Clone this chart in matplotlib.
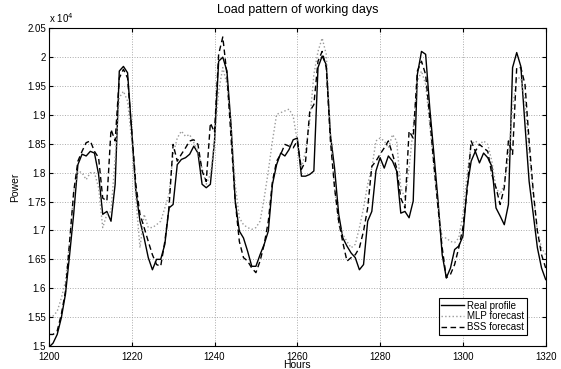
import matplotlib
matplotlib.use("Agg")
import matplotlib.pyplot as plt
import numpy as np

plt.rcParams["font.family"] = ["Liberation Sans", "DejaVu Sans"]

# hourly values, hours 1200..1320
hours = np.arange(1200, 1321)

real = [
    14980, 15050, 15200, 15490, 15900, 16580, 17300, 18140, 18320, 18290,
    18370, 18340, 17970, 17280, 17330, 17160, 17800, 19760, 19840, 19730,
    18720, 17680, 17160, 16870, 16530, 16320, 16500, 16500, 16760, 17390,
    17450, 18140, 18230, 18260, 18320, 18460, 18340, 17800, 17740, 17800,
    18550, 19930, 20000, 19760, 18830, 17510, 16990, 16870, 16640, 16380,
    16380, 16580, 16760, 16990, 17800, 18140, 18340, 18290, 18400, 18570,
    18600, 17940, 17940, 17970, 18030, 19820, 20020, 19870, 18660, 18080,
    17280, 16870, 16730, 16610, 16530, 16320, 16410, 17160, 17330, 18030,
    18260, 18080, 18290, 18200, 18030, 17300, 17330, 17220, 17510, 19700,
    20100, 20050, 19120, 18320, 17510, 16580, 16180, 16350, 16670, 16730,
    16900, 17740, 18200, 18370, 18170, 18340, 18260, 18110, 17390, 17250,
    17100, 17450, 19820, 20080, 19840, 18830, 17850, 17280, 16700, 16350,
    16150,
]

mlp = [
    15520, 15520, 15600, 15830, 16120, 16810, 17680, 18030, 18000, 17880,
    18000, 18000, 17740, 17050, 17280, 17330, 18260, 19300, 19410, 19240,
    18550, 17560, 16700, 17280, 17050, 17050, 17100, 17160, 17390, 17620,
    18320, 18600, 18720, 18630, 18660, 18520, 18370, 18080, 17800, 17970,
    18550, 19410, 19820, 19530, 18780, 17800, 17220, 17100, 17050, 17020,
    17050, 17160, 17560, 18030, 18550, 19010, 19040, 19070, 19100, 18980,
    18550, 18080, 18370, 18890, 19700, 20100, 20330, 20050, 18660, 17740,
    17100, 16930, 16810, 16700, 16760, 17050, 17390, 17800, 18080, 18550,
    18600, 18550, 18430, 18660, 18550, 17740, 17560, 18080, 18780, 19580,
    19760, 19530, 18830, 18080, 17390, 16870, 16870, 16810, 16790, 16870,
    17280, 17970, 18490, 18550, 18490, 18550, 18490, 18200, 17740, 17620,
    17800, 18260, 19120, 19640, 19640, 19240, 18370, 17620, 16990, 16700,
    16580,
]

bss = [
    15200, 15200, 15260, 15550, 15950, 16810, 17680, 18200, 18370, 18520,
    18550, 18370, 18260, 17560, 17510, 18750, 18550, 19640, 19790, 19640,
    18720, 17800, 17280, 17050, 16810, 16580, 16410, 16380, 16810, 17390,
    18490, 18200, 18320, 18430, 18550, 18570, 18490, 18030, 17850, 18860,
    18700, 20050, 20350, 19700, 18600, 17510, 16810, 16530, 16470, 16350,
    16270, 16470, 16760, 17160, 17850, 18200, 18320, 18490, 18460, 18430,
    18550, 18060, 18200, 19060, 19180, 19930, 20100, 19820, 18550, 17740,
    17160, 16790, 16470, 16530, 16580, 16700, 16990, 17390, 18110, 18200,
    18320, 18430, 18550, 18320, 18080, 17560, 17390, 18720, 18600, 19760,
    19930, 19700, 18950, 18140, 17390, 16700, 16180, 16240, 16410, 16700,
    17050, 17680, 18550, 18370, 18490, 18430, 18370, 17970, 17740, 17450,
    17740, 18550, 18320, 19820, 19820, 19530, 18550, 17680, 16990, 16580,
    16350,
]

yticks = np.arange(15000, 20501, 500)
ytick_labels = ["1.5", "1.55", "1.6", "1.65", "1.7", "1.75", "1.8",
                "1.85", "1.9", "1.95", "2", "2.05"]
xticks = np.arange(1200, 1321, 20)

fig = plt.figure(figsize=(5.61, 3.69), dpi=100)
ax = fig.add_axes([0.0872, 0.0623, 0.8855, 0.861])

ax.plot(hours, real, color="black", lw=1.0, label="Real profile")
ax.plot(hours, mlp, color="#9a9a9a", lw=1.0, ls=":", label="MLP forecast")
ax.plot(hours, bss, color="black", lw=1.0, ls="--", dashes=(4, 2.5), label="BSS forecast")

ax.set_xlim(1200, 1320)
ax.set_ylim(15000, 20500)
ax.set_xticks(xticks)
ax.set_yticks(yticks)
ax.set_yticklabels(ytick_labels)
ax.tick_params(direction="in", top=True, right=True, labelsize=7, length=3, pad=2)
ax.tick_params(axis="x", pad=4)
ax.grid(True, ls=":", color="#aaaaaa", lw=0.7)
for s in ax.spines.values():
    s.set_linewidth(0.8)

ax.set_title("Load pattern of working days", fontsize=9, pad=11)
ax.set_xlabel("Hours", fontsize=7.5, labelpad=-1)
ax.set_ylabel("Power", fontsize=7.5, labelpad=5)
ax.text(0.0, 1.01, r"x 10$^4$", transform=ax.transAxes, fontsize=7, va="bottom", ha="left")

leg = ax.legend(loc="lower right", bbox_to_anchor=(0.962, 0.035), fontsize=7,
                fancybox=False, edgecolor="black", framealpha=1, handlelength=2.4,
                borderpad=0.25, labelspacing=0.1, handletextpad=0.3, borderaxespad=0)
leg.get_frame().set_linewidth(0.8)

fig.savefig("out.png", dpi=100)
